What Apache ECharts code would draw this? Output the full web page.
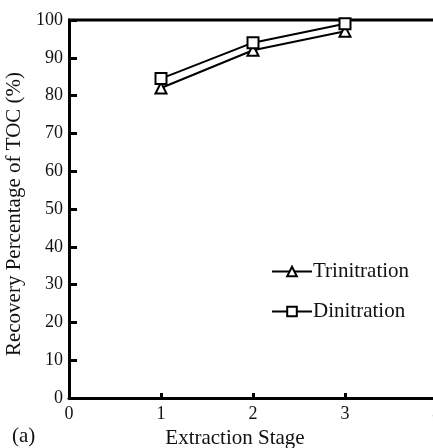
<!DOCTYPE html>
<html>
<head>
<meta charset="utf-8">
<script src="https://cdn.jsdelivr.net/npm/echarts@6/dist/echarts.min.js"></script>
<style>
  html, body { margin: 0; padding: 0; background: #fff; }
  #grafico { width: 433px; height: 448px; }
</style>
</head>
<body>
<div id="grafico"></div>
<script>
// datos
const etapas = [1, 2, 3];
const trinitracion = [82, 92, 97];
const dinitracion = [84.5, 94, 99];
const ticksY = [0, 10, 20, 30, 40, 50, 60, 70, 80, 90, 100];

const fuente = '"Liberation Serif", "DejaVu Serif", serif';
const miGrafico = echarts.init(document.getElementById('grafico'));

const aPares = valores => etapas.map((e, i) => [e, valores[i]]);

const opciones = {
  animation: false,
  grid: { left: 69, right: -4, top: 20, bottom: 50, outerBoundsMode: 'none', containLabel: false },
  legend: {
    orient: 'vertical',
    left: 266,
    top: 256,
    itemWidth: 40,
    itemHeight: 12,
    itemGap: 19,
    textStyle: { fontFamily: fuente, fontSize: 21, color: '#111', padding: [0, 0, 0, -4] },
    data: ['Trinitration', 'Dinitration']
  },
  xAxis: {
    type: 'value',
    min: 0,
    max: 4,
    interval: 1,
    name: 'Extraction Stage',
    nameLocation: 'middle',
    nameGap: 30,
    nameTextStyle: { fontFamily: fuente, fontSize: 21, color: '#111', padding: [0, 36, 0, 0] },
    axisLine: { lineStyle: { color: '#000', width: 3 } },
    axisTick: { inside: true, length: 5, lineStyle: { color: '#000', width: 3 } },
    axisLabel: { fontFamily: fuente, fontSize: 18, color: '#111', margin: 7 },
    splitLine: { show: false }
  },
  yAxis: {
    type: 'value',
    min: 0,
    max: 100,
    interval: 10,
    name: 'Recovery Percentage of TOC (%)',
    nameLocation: 'middle',
    nameGap: 42,
    nameTextStyle: { fontFamily: fuente, fontSize: 21, color: '#111', padding: [0, 10, 0, 0] },
    axisLine: { lineStyle: { color: '#000', width: 3 } },
    axisTick: { inside: true, length: 8, lineStyle: { color: '#000', width: 3 } },
    axisLabel: {
      fontFamily: fuente, fontSize: 18, color: '#111', margin: 6,
      formatter: v => (ticksY.includes(v) ? String(v) : '')
    },
    splitLine: { show: false }
  },
  graphic: [
    // borde superior
    { type: 'line', shape: { x1: 68, y1: 20, x2: 433, y2: 20 }, style: { stroke: '#000', lineWidth: 3 } },
    { type: 'text', left: 12, top: 426, style: { text: '(a)', font: '21px ' + fuente, fill: '#111' } }
  ],
  series: [
    {
      name: 'Trinitration',
      type: 'line',
      data: aPares(trinitracion),
      symbol: 'triangle',
      symbolSize: 11,
      lineStyle: { color: '#000', width: 2 },
      itemStyle: { color: '#fff', borderColor: '#000', borderWidth: 2 }
    },
    {
      name: 'Dinitration',
      type: 'line',
      data: aPares(dinitracion),
      symbol: 'rect',
      symbolSize: 11,
      lineStyle: { color: '#000', width: 2 },
      itemStyle: { color: '#fff', borderColor: '#000', borderWidth: 2 }
    }
  ]
};

miGrafico.setOption(opciones);
</script>
</body>
</html>
